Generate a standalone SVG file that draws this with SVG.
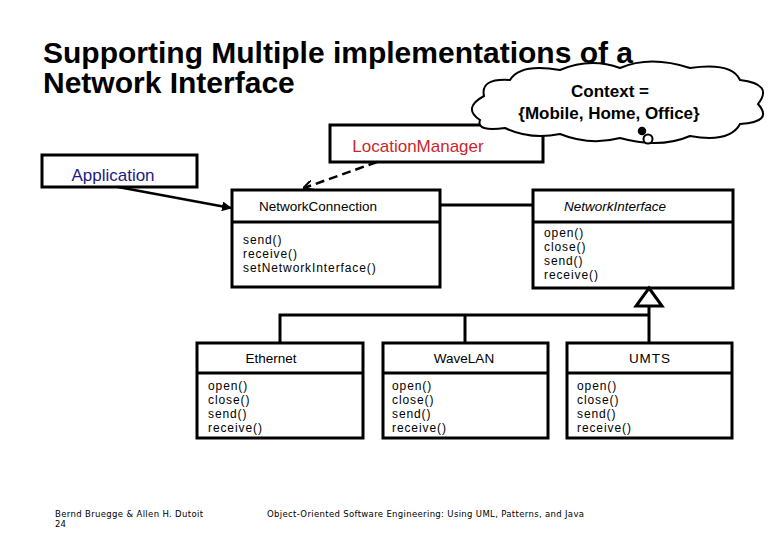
<svg xmlns="http://www.w3.org/2000/svg" width="780" height="540" viewBox="0 0 780 540">
<style>
.box{fill:#fff;stroke:#000;stroke-width:3}
.ln{fill:none;stroke:#000;stroke-width:3}
.t{font-family:"Liberation Sans",Arial,sans-serif}
.title{font-family:"Liberation Sans",Arial,sans-serif;font-weight:bold;font-size:30px;fill:#000}
.nm{font-family:"Liberation Sans",Arial,sans-serif;font-size:13.5px;fill:#000;text-anchor:middle}
.m{font-family:"Liberation Sans",Arial,sans-serif;font-size:12px;letter-spacing:0.9px;fill:#000}
.foot{font-family:"DejaVu Sans",Verdana,sans-serif;font-size:8.5px;fill:#000}
</style>
<defs>
<marker id="solid" viewBox="0 0 10 10" refX="9" refY="5" markerWidth="10" markerHeight="10" markerUnits="userSpaceOnUse" orient="auto">
<path d="M0,0 L10,5 L0,10 z" fill="#000"/>
</marker>
<marker id="open" viewBox="0 0 10 10" refX="9" refY="5" markerWidth="10" markerHeight="10" markerUnits="userSpaceOnUse" orient="auto">
<path d="M0,0 L10,5 L0,10" fill="none" stroke="#000" stroke-width="2"/>
</marker>
</defs>
<rect width="780" height="540" fill="#fff"/>

<g id="title">
<text class="title" x="43" y="63">Supporting Multiple implementations of a</text>
<text class="title" x="43" y="93">Network Interface</text>
</g>

<g id="LocationManager">
<rect class="box" x="330" y="125" width="213" height="37"/>
<text class="t" x="418" y="152" font-size="17" fill="#c8282d" text-anchor="middle">LocationManager</text>
</g>

<g id="context-note">
<path d="M480 120 Q462 108 484 96 Q480 78 510 80 Q520 63 560 70 Q590 57 620 68 Q650 55 690 68 Q732 62 740 80 Q774 84 758 104 Q774 122 740 124 Q730 143 690 136 Q660 149 620 138 Q590 146 560 134 Q530 140 505 128 Q476 132 480 120 Z" fill="#fff" stroke="#000" stroke-width="2"/>
<text class="t" x="610" y="97" font-size="17" font-weight="bold" text-anchor="middle">Context =</text>
<text class="t" x="609" y="119" font-size="17" font-weight="bold" text-anchor="middle">{Mobile, Home, Office}</text>
<circle cx="642" cy="131" r="3.5" fill="#000" stroke="#000" stroke-width="1.5"/>
<circle cx="648" cy="139" r="4.5" fill="#fff" stroke="#000" stroke-width="2"/>
</g>

<g id="Application">
<rect class="box" x="42" y="155" width="155" height="32"/>
<text class="t" x="113" y="181" font-size="17" fill="#1c1c80" text-anchor="middle">Application</text>
</g>

<g id="NetworkConnection">
<rect class="box" x="232" y="190" width="208" height="97"/>
<line class="ln" x1="232" y1="222" x2="440" y2="222"/>
<text class="nm" x="318" y="211">NetworkConnection</text>
<text class="m" x="243" y="244" fill="#1c1c6e">send()</text>
<text class="m" x="243" y="258" fill="#1c1c6e">receive()</text>
<text class="m" x="243" y="272" fill="#c03030">setNetworkInterface()</text>
</g>

<g id="NetworkInterface">
<rect class="box" x="533" y="190" width="200" height="98"/>
<line class="ln" x1="533" y1="222" x2="733" y2="222"/>
<text class="nm" x="615" y="211" font-style="italic">NetworkInterface</text>
<text class="m" x="544" y="237">open()</text>
<text class="m" x="544" y="251">close()</text>
<text class="m" x="544" y="265">send()</text>
<text class="m" x="544" y="279">receive()</text>
</g>

<g id="Ethernet">
<rect class="box" x="197" y="343" width="166" height="95"/>
<line class="ln" x1="197" y1="373" x2="363" y2="373"/>
<text class="nm" x="271" y="363">Ethernet</text>
<text class="m" x="208" y="390">open()</text>
<text class="m" x="208" y="404">close()</text>
<text class="m" x="208" y="418">send()</text>
<text class="m" x="208" y="432">receive()</text>
</g>

<g id="WaveLAN">
<rect class="box" x="383" y="343" width="165" height="95"/>
<line class="ln" x1="383" y1="373" x2="548" y2="373"/>
<text class="nm" x="464" y="363">WaveLAN</text>
<text class="m" x="392" y="390">open()</text>
<text class="m" x="392" y="404">close()</text>
<text class="m" x="392" y="418">send()</text>
<text class="m" x="392" y="432">receive()</text>
</g>

<g id="UMTS">
<rect class="box" x="567" y="343" width="165" height="95"/>
<line class="ln" x1="567" y1="373" x2="732" y2="373"/>
<text class="nm" x="650" y="363" letter-spacing="1">UMTS</text>
<text class="m" x="577" y="390">open()</text>
<text class="m" x="577" y="404">close()</text>
<text class="m" x="577" y="418">send()</text>
<text class="m" x="577" y="432">receive()</text>
</g>

<g id="connectors">
<line x1="377" y1="162" x2="304" y2="188" stroke="#000" stroke-width="2.5" stroke-dasharray="9,5" marker-end="url(#open)"/>
<line x1="118" y1="187" x2="231" y2="208" stroke="#000" stroke-width="2.5" marker-end="url(#solid)"/>
<line class="ln" x1="440" y1="205" x2="533" y2="205"/>
<polyline class="ln" points="280,343 280,315 649,315"/>
<line class="ln" x1="465" y1="315" x2="465" y2="343"/>
<line class="ln" x1="649" y1="306" x2="649" y2="343"/>
<path d="M649 288 L662 306 L636 306 Z" fill="#fff" stroke="#000" stroke-width="3"/>
</g>

<g id="footer">
<text class="foot" x="55" y="517" textLength="148">Bernd Bruegge &amp; Allen H. Dutoit</text>
<text class="foot" x="55" y="527">24</text>
<text class="foot" x="267" y="517" textLength="317">Object-Oriented Software Engineering: Using UML, Patterns, and Java</text>
</g>
</svg>
